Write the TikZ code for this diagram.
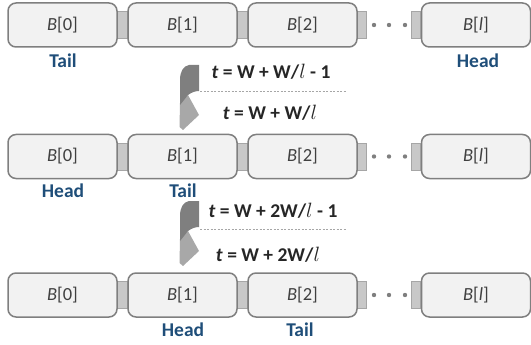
\documentclass[tikz,border=0pt]{standalone}
\usepackage{fontspec}
\setmainfont{Carlito}
\usetikzlibrary{backgrounds}
\definecolor{cellfill}{HTML}{F2F2F2}
\definecolor{cellborder}{HTML}{7F7F7F}
\definecolor{celltext}{HTML}{404040}
\definecolor{linkfill}{HTML}{C8C8C8}
\definecolor{linkborder}{HTML}{A6A6A6}
\definecolor{ptrblue}{HTML}{1F4E79}
\definecolor{turndark}{HTML}{7F7F7F}
\definecolor{turnlight}{HTML}{A8A8A8}
\definecolor{eqtext}{HTML}{262626}
\tikzset{
  cell/.style={draw=cellborder, fill=cellfill, line width=1.5pt, rounded corners=8pt,
    minimum width=109pt, minimum height=44pt, inner sep=0pt, text=celltext,
    font=\fontsize{18.5}{20}\selectfont},
  link/.style={draw=linkborder, fill=linkfill, line width=0.8pt},
  ptr/.style={text=ptrblue, font=\bfseries\fontsize{19.5}{20}\selectfont, inner sep=0pt},
  eq/.style={text=eqtext, font=\bfseries\fontsize{19.5}{20}\selectfont, inner sep=0pt},
  sep/.style={draw=linkborder, line width=1pt, dash pattern=on 2pt off 1.5pt},
  dot/.style={fill=cellborder},
  turn/.pic={
    \fill[turnlight] (1,38) -- (9,30) -- (20,50) -- (4,65) -- (0.5,62) -- cycle;
    \fill[turndark] (20,0) -- (10,0) .. controls (4,1) and (1,7) .. (1,15)
      -- (1,40) -- (9,30) .. controls (13,27) and (17,26) .. (20,26) -- cycle;
  }
}
\begin{document}
\begin{tikzpicture}[x=1pt,y=-1pt]
\useasboundingbox (0,0) rectangle (531,345);

% three snapshots of the buffer ring
\foreach \r/\yc in {1/25, 2/156.5, 3/295}{
  \node[cell] (r\r b0) at (62.5,\yc) {\textit{B}[0]};
  \node[cell] (r\r b1) at (182.5,\yc) {\textit{B}[1]};
  \node[cell] (r\r b2) at (302.5,\yc) {\textit{B}[2]};
  \node[cell] (r\r bl) at (476,\yc) {\textit{B}[\textit{l}]};
  \coordinate (r\r s) at ([xshift=9pt]r\r b2.east);
  \coordinate (r\r t) at ([xshift=-9pt]r\r bl.west);
  \begin{scope}[on background layer]
    \draw[link] ([yshift=-13.5pt]r\r b0.east) rectangle ([yshift=13.5pt]r\r b1.west);
    \draw[link] ([yshift=-13.5pt]r\r b1.east) rectangle ([yshift=13.5pt]r\r b2.west);
    \draw[link] ([yshift=-13.5pt]r\r b2.east) rectangle ([yshift=13.5pt]r\r s);
    \draw[link] ([yshift=-13.5pt]r\r t) rectangle ([yshift=13.5pt]r\r bl.west);
  \end{scope}
  \foreach \dx in {374,389,405}{
    \fill[dot] (\dx,\yc) circle (2.2pt);
  }
}

% head / tail pointers
\node[ptr] (tail1) at (63,61) {Tail};
\node[ptr] (head1) at (478,61) {Head};
\node[ptr] (head2) at (63,191) {Head};
\node[ptr] (tail2) at (183,191) {Tail};
\node[ptr] (head3) at (183,330) {Head};
\node[ptr] (tail3) at (300,330) {Tail};

% first step
\pic at (179,65) {turn};
\node[eq] (e1a) at (271,72) {\textit{t} = W + W/$l$ - 1};
\coordinate (d1a) at (200,92);
\coordinate (d1b) at (347,92);
\draw[sep] (d1a) -- (d1b);
\node[eq] (e1b) at (270,113) {\textit{t} = W + W/$l$};

% second step
\pic at (179,201) {turn};
\node[eq] (e2a) at (273,211) {\textit{t} = W + 2W/$l$ - 1};
\coordinate (d2a) at (200,229);
\coordinate (d2b) at (347,229);
\draw[sep] (d2a) -- (d2b);
\node[eq] (e2b) at (268,255) {\textit{t} = W + 2W/$l$};
\end{tikzpicture}
\end{document}
